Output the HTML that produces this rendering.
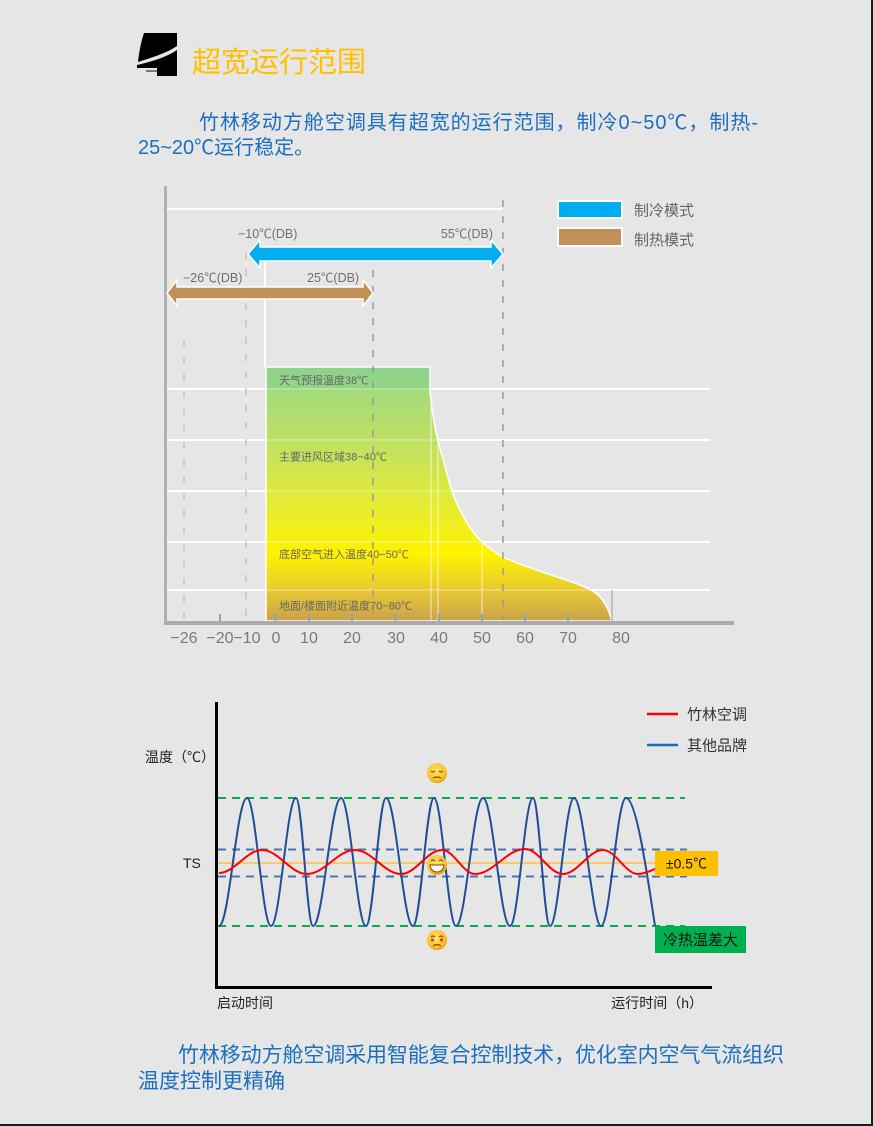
<!DOCTYPE html>
<html>
<head>
<meta charset="utf-8">
<style>
html,body{margin:0;padding:0;background:#e6e6e6;}
body{width:873px;height:1126px;overflow:hidden;}
svg{display:block;}
text{font-family:"Liberation Sans","Noto Sans CJK SC",sans-serif;}
</style>
</head>
<body>
<svg width="873" height="1126" viewBox="0 0 873 1126" xmlns="http://www.w3.org/2000/svg">
<defs>
<linearGradient id="fillg" x1="0" y1="367" x2="0" y2="623" gradientUnits="userSpaceOnUse">
<stop offset="0" stop-color="#8ed38c"/>
<stop offset="0.08" stop-color="#93d487"/>
<stop offset="0.09" stop-color="#a2da7b"/>
<stop offset="0.35" stop-color="#c8e35a"/>
<stop offset="0.55" stop-color="#e7ec30"/>
<stop offset="0.73" stop-color="#fff200"/>
<stop offset="0.87" stop-color="#e8cb32"/>
<stop offset="1" stop-color="#c89e4e"/>
</linearGradient>
<radialGradient id="emo" cx="0.45" cy="0.4" r="0.6">
<stop offset="0" stop-color="#ffe46a"/>
<stop offset="0.8" stop-color="#f7c02a"/>
<stop offset="1" stop-color="#e69a10"/>
</radialGradient>
</defs>
<rect x="0" y="0" width="873" height="1126" fill="#e6e6e6"/>
<rect x="871" y="0" width="2" height="1126" fill="#1c1c1c"/>
<rect x="0" y="1124" width="873" height="2" fill="#1c1c1c"/>

<!-- header icon -->
<path d="M144,33 L177,33 L177,46 C165,54 150,58 138,62 C139,52 141,42 144,33 Z" fill="#000"/>
<path d="M177,50 L177,76 L157,76 L157,68 L137,68 L137,65 C150,62 165,58 177,50 Z" fill="#000"/>
<line x1="146" y1="71" x2="157" y2="71" stroke="#555" stroke-width="1.5"/>

<text x="192" y="72" font-size="29" fill="#ffc000">超宽运行范围</text>

<text x="199" y="129" font-size="20" fill="#1a6fc0" textLength="559" lengthAdjust="spacing">竹林移动方舱空调具有超宽的运行范围，制冷0~50℃，制热-</text>
<text x="138" y="154" font-size="20" fill="#1a6fc0">25~20℃运行稳定。</text>

<!-- TOP CHART -->
<line x1="167" y1="209" x2="503" y2="209" stroke="#fff" stroke-width="2"/>
<g stroke="#fff" stroke-width="2">
<line x1="167" y1="389" x2="710" y2="389"/>
<line x1="167" y1="440" x2="710" y2="440"/>
<line x1="167" y1="491" x2="710" y2="491"/>
<line x1="167" y1="542" x2="710" y2="542"/>
<line x1="167" y1="590" x2="710" y2="590"/>
</g>
<line x1="184" y1="340" x2="184" y2="620" stroke="#c4c4c4" stroke-width="1.5" stroke-dasharray="7 10"/>
<line x1="246" y1="252" x2="246" y2="620" stroke="#c4c4c4" stroke-width="1.5" stroke-dasharray="7 10"/>
<line x1="265" y1="262" x2="265" y2="367" stroke="#fff" stroke-width="2"/>

<path d="M266,621 L266,367 L430,367 L430,392 C433,420 437,440 442,455 C447,475 452,495 460,510 C466,522 472,532 480,540 C487,547 494,552 503,557 C520,565 540,571 560,578 C575,583 588,587 597,594 C604,600 609,610 612,621 Z" fill="url(#fillg)" stroke="#fff" stroke-width="1.5"/>
<g stroke="#fff" stroke-width="1.5" stroke-opacity="0.35">
<line x1="266" y1="389" x2="430" y2="389"/>
<line x1="266" y1="440" x2="441" y2="440"/>
<line x1="266" y1="491" x2="455" y2="491"/>
<line x1="266" y1="542" x2="483" y2="542"/>
<line x1="266" y1="590" x2="590" y2="590"/>
</g>
<g stroke="#fff" stroke-width="1.2" stroke-opacity="0.6">
<line x1="431" y1="393" x2="431" y2="621"/>
<line x1="438" y1="440" x2="438" y2="621"/>
<line x1="482" y1="542" x2="482" y2="621"/>
</g>
<line x1="612" y1="590" x2="612" y2="621" stroke="#999" stroke-width="1"/>
<line x1="373" y1="270" x2="373" y2="620" stroke="#9a9a9a" stroke-width="1.5" stroke-dasharray="7 9"/>
<line x1="503" y1="200" x2="503" y2="620" stroke="#9a9a9a" stroke-width="1.5" stroke-dasharray="7 9"/>

<g font-size="11" fill="#666">
<text x="279" y="384">天气预报温度38℃</text>
<text x="279" y="460.5">主要进风区域38−40℃</text>
<text x="279" y="558">底部空气进入温度40−50℃</text>
<text x="279" y="609.5">地面/楼面附近温度70−80℃</text>
</g>

<rect x="164" y="186" width="3" height="438" fill="#b0b0b0"/>
<rect x="164" y="621" width="570" height="4" fill="#ababab"/>
<g stroke="#86a6b8" stroke-width="2">
<line x1="220" y1="614" x2="220" y2="621"/>
<line x1="275.5" y1="614" x2="275.5" y2="621"/>
<line x1="309" y1="614" x2="309" y2="621"/>
<line x1="352" y1="614" x2="352" y2="621"/>
<line x1="395.5" y1="614" x2="395.5" y2="621"/>
<line x1="439" y1="614" x2="439" y2="621"/>
<line x1="482" y1="614" x2="482" y2="621"/>
<line x1="525" y1="614" x2="525" y2="621"/>
<line x1="568" y1="614" x2="568" y2="621"/>
</g>
<g font-size="16" fill="#7a7a7a" text-anchor="middle">
<text x="184" y="643">−26</text>
<text x="220" y="643">−20</text>
<text x="247" y="643">−10</text>
<text x="276" y="643">0</text>
<text x="309" y="643">10</text>
<text x="352" y="643">20</text>
<text x="396" y="643">30</text>
<text x="439" y="643">40</text>
<text x="482" y="643">50</text>
<text x="525" y="643">60</text>
<text x="568" y="643">70</text>
<text x="621" y="643">80</text>
</g>

<polygon points="248,254 260,240 260,247 491,247 491,240 503,254 491,268 491,261 260,261 260,268" fill="#00aeef" stroke="#fff" stroke-width="1.5"/>
<polygon points="167,293 177,280 177,287 363,287 363,280 373,293 363,306 363,299 177,299 177,306" fill="#c09058" stroke="#fff" stroke-width="1.5"/>
<g font-size="12.5" fill="#707070">
<text x="238" y="238">−10℃(DB)</text>
<text x="493" y="238" text-anchor="end">55℃(DB)</text>
<text x="183" y="282">−26℃(DB)</text>
<text x="307" y="282">25℃(DB)</text>
</g>

<rect x="558" y="201" width="64" height="17" fill="#00aeef" stroke="#fff" stroke-width="2"/>
<rect x="558" y="228" width="64" height="18" fill="#c09058" stroke="#fff" stroke-width="2"/>
<g font-size="15" fill="#666">
<text x="634" y="215.5">制冷模式</text>
<text x="634" y="245">制热模式</text>
</g>

<!-- BOTTOM CHART -->
<line x1="216.5" y1="702" x2="216.5" y2="989" stroke="#000" stroke-width="3"/>
<line x1="215" y1="987.5" x2="712" y2="987.5" stroke="#000" stroke-width="3"/>

<g stroke-width="2" fill="none" stroke-dasharray="8 6">
<line x1="218" y1="798" x2="685" y2="798" stroke="#00b050"/>
<line x1="218" y1="926" x2="685" y2="926" stroke="#00b050"/>
<line x1="218" y1="849.5" x2="687" y2="849.5" stroke="#4a72b0"/>
<line x1="218" y1="876.5" x2="687" y2="876.5" stroke="#4a72b0"/>
</g>
<line x1="218" y1="863" x2="656" y2="863" stroke="#ffc766" stroke-width="2"/>

<path d="M219,926 C229.2,926 236.8,798 247,798 C255.7,798 262.3,926 271,926 C280.1,926 286.9,798 296,798 C302.2,798 306.8,926 313,926 C323.2,926 330.8,798 341,798 C350.1,798 356.9,926 366,926 C373.3,926 378.7,798 386,798 C395.8,798 403.2,926 413,926 C420.6,926 426.4,798 434,798 C442,798 448,926 456,926 C465.8,926 473.2,798 483,798 C492.8,798 500.2,926 510,926 C518.4,926 524.6,798 533,798 C539.2,798 543.8,926 550,926 C558.7,926 565.3,798 574,798 C583.8,798 592.2,926 601,926 C610.1,926 616.9,798 626,798 C636.6,798 648,880 655,926" fill="none" stroke="#1f4e99" stroke-width="2"/>

<path d="M219,873 C234.7,873 246.3,850 262,850 C278.4,850 290.6,874 307,874 C324.5,874 337.5,850 355,850 C371.7,850 384.3,874 401,874 C415.9,874 427.1,850 442,850 C454,850 463,874 475,874 C493.2,874 506.8,849 525,849 C538.8,849 549.2,874 563,874 C577.6,874 588.4,850 603,850 C615.7,850 625.3,874 638,874 C644,874 650,871 655,869" fill="none" stroke="#ff0000" stroke-width="2"/>

<g>
<circle cx="437" cy="773" r="10" fill="url(#emo)"/>
<path d="M431,771 q2,2 4,0 M439,771 q2,2 4,0" stroke="#8a4a00" stroke-width="1.2" fill="none"/>
<path d="M433,778 q4,-2 8,0" stroke="#8a4a00" stroke-width="1.2" fill="none"/>
</g>
<g>
<circle cx="437" cy="865" r="10" fill="url(#emo)"/>
<path d="M431,861 q2,-2 4,0 M439,861 q2,-2 4,0" stroke="#8a4a00" stroke-width="1.2" fill="none"/>
<path d="M430,865 h14 q-1,7 -7,7 q-6,0 -7,-7 z" fill="#fff" stroke="#8a4a00" stroke-width="1"/>
</g>
<g>
<circle cx="437" cy="940" r="10" fill="url(#emo)"/>
<path d="M431,937 q2,-2 4,0 M439,937 q2,-2 4,0" stroke="#8a4a00" stroke-width="1.2" fill="none"/>
<circle cx="432.5" cy="940" r="1.6" fill="#d04040"/>
<circle cx="441.5" cy="940" r="1.6" fill="#d04040"/>
<path d="M433,946 q4,-3 8,0" stroke="#8a4a00" stroke-width="1.2" fill="none"/>
</g>

<rect x="655" y="851" width="63" height="25" fill="#ffc000"/>
<text x="686.5" y="868.5" font-size="14" fill="#111" text-anchor="middle">±0.5℃</text>
<rect x="655" y="926" width="91" height="27" fill="#00b050"/>
<text x="700.5" y="945" font-size="15" fill="#111" text-anchor="middle">冷热温差大</text>

<line x1="647" y1="714" x2="678" y2="714" stroke="#ff0000" stroke-width="2.5"/>
<line x1="647" y1="745" x2="678" y2="745" stroke="#1070c8" stroke-width="2.5"/>
<g font-size="15" fill="#333">
<text x="687" y="719.5">竹林空调</text>
<text x="687" y="750.5">其他品牌</text>
</g>

<g font-size="14" fill="#222">
<text x="145" y="762">温度（℃）</text>
<text x="183" y="868">TS</text>
<text x="217" y="1008">启动时间</text>
<text x="703" y="1008" text-anchor="end">运行时间（h）</text>
</g>

<text x="178" y="1062" font-size="21" fill="#1a6fc0" textLength="606" lengthAdjust="spacing">竹林移动方舱空调采用智能复合控制技术，优化室内空气气流组织</text>
<text x="138" y="1088" font-size="21" fill="#1a6fc0">温度控制更精确</text>
</svg>
</body>
</html>
